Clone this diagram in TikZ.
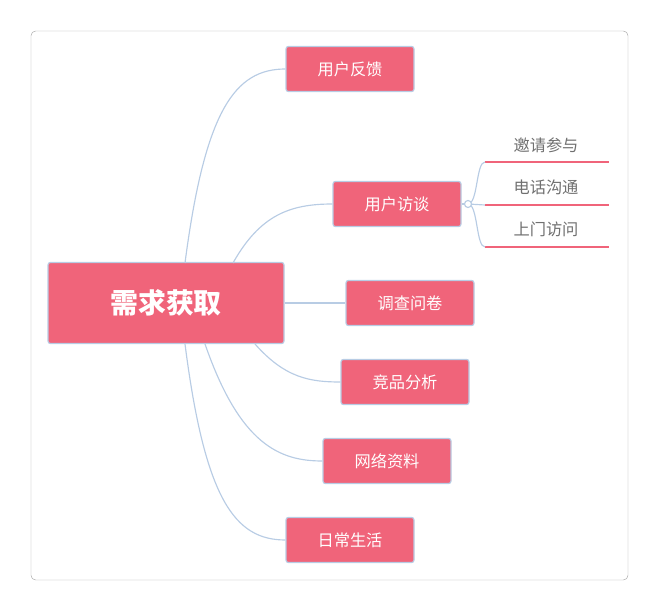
\documentclass[tikz,border=0pt]{standalone}
\usepackage{fontspec}
\setmainfont{Noto Sans CJK SC}
\definecolor{leafred}{HTML}{F0647A}
\definecolor{edgeblue}{HTML}{B8CCE4}
\definecolor{subgrey}{HTML}{707070}
\begin{document}
\begin{tikzpicture}[x=0.0303cm,y=-0.0303cm]
        \tikzset{
          topic/.style={draw=edgeblue,line width=1pt,fill=leafred,rounded corners=2pt,
            minimum width=128*0.0303cm,minimum height=45*0.0303cm,text=white,font=\fontsize{14}{16}\selectfont},
          subtopic/.style={text=subgrey,font=\fontsize{14}{16}\selectfont},
          link/.style={edgeblue,line width=1pt},
          underline/.style={leafred,line width=1.6pt}
        }
        \useasboundingbox (0,0) rectangle (658,611);
        \draw [gray!70,rounded corners=4pt] (31,31) rectangle (628,580);
        \node [topic,minimum width=236*0.0303cm,minimum height=81*0.0303cm,
          font=\fontsize{24}{28}\selectfont\bfseries] (root) at (166,303) {需求获取};
        \node [topic] (feedback) at (350,69) {用户反馈};
        \node [topic] (interview) at (397,204) {用户访谈};
        \node [topic] (survey) at (410,303) {调查问卷};
        \node [topic] (compete) at (405,382) {竞品分析};
        \node [topic] (web) at (387,461) {网络资料};
        \node [topic] (daily) at (350,540) {日常生活};
        % sub items of the interview
        \node [subtopic] (invite) at (546,145) {邀请参与};
        \node [subtopic] (phone) at (546,187) {电话沟通};
        \node [subtopic] (visit) at (546,229) {上门访问};
        \coordinate (ua) at (485,162); \coordinate (ub) at (609,162);
        \coordinate (va) at (485,205); \coordinate (vb) at (609,205);
        \coordinate (wa) at (485,247); \coordinate (wb) at (609,247);
        \draw [underline] (ua) -- (ub);
        \draw [underline] (va) -- (vb);
        \draw [underline] (wa) -- (wb);
        \coordinate (knot) at (468,204);
        \draw [link] (interview.east) -- (knot);
        \draw [link] (knot) .. controls (478,204) and (476,162) .. (ua);
        \draw [link] (knot) -- (va);
        \draw [link] (knot) .. controls (478,204) and (476,247) .. (wa);
        \draw [link,fill=white] (knot) circle (3.5);
        % branches
        \draw [link] (185,263) .. controls (205,110) and (235,69) .. (feedback.west);
        \draw [link] (233,263) .. controls (260,215) and (290,204) .. (interview.west);
        \draw [link] (root.east) -- (survey.west);
        \draw [link] (255,344) .. controls (285,378) and (310,382) .. (compete.west);
        \draw [link] (205,344) .. controls (240,445) and (280,461) .. (web.west);
        \draw [link] (185,344) .. controls (205,500) and (235,540) .. (daily.west);
\end{tikzpicture}
\end{document}
